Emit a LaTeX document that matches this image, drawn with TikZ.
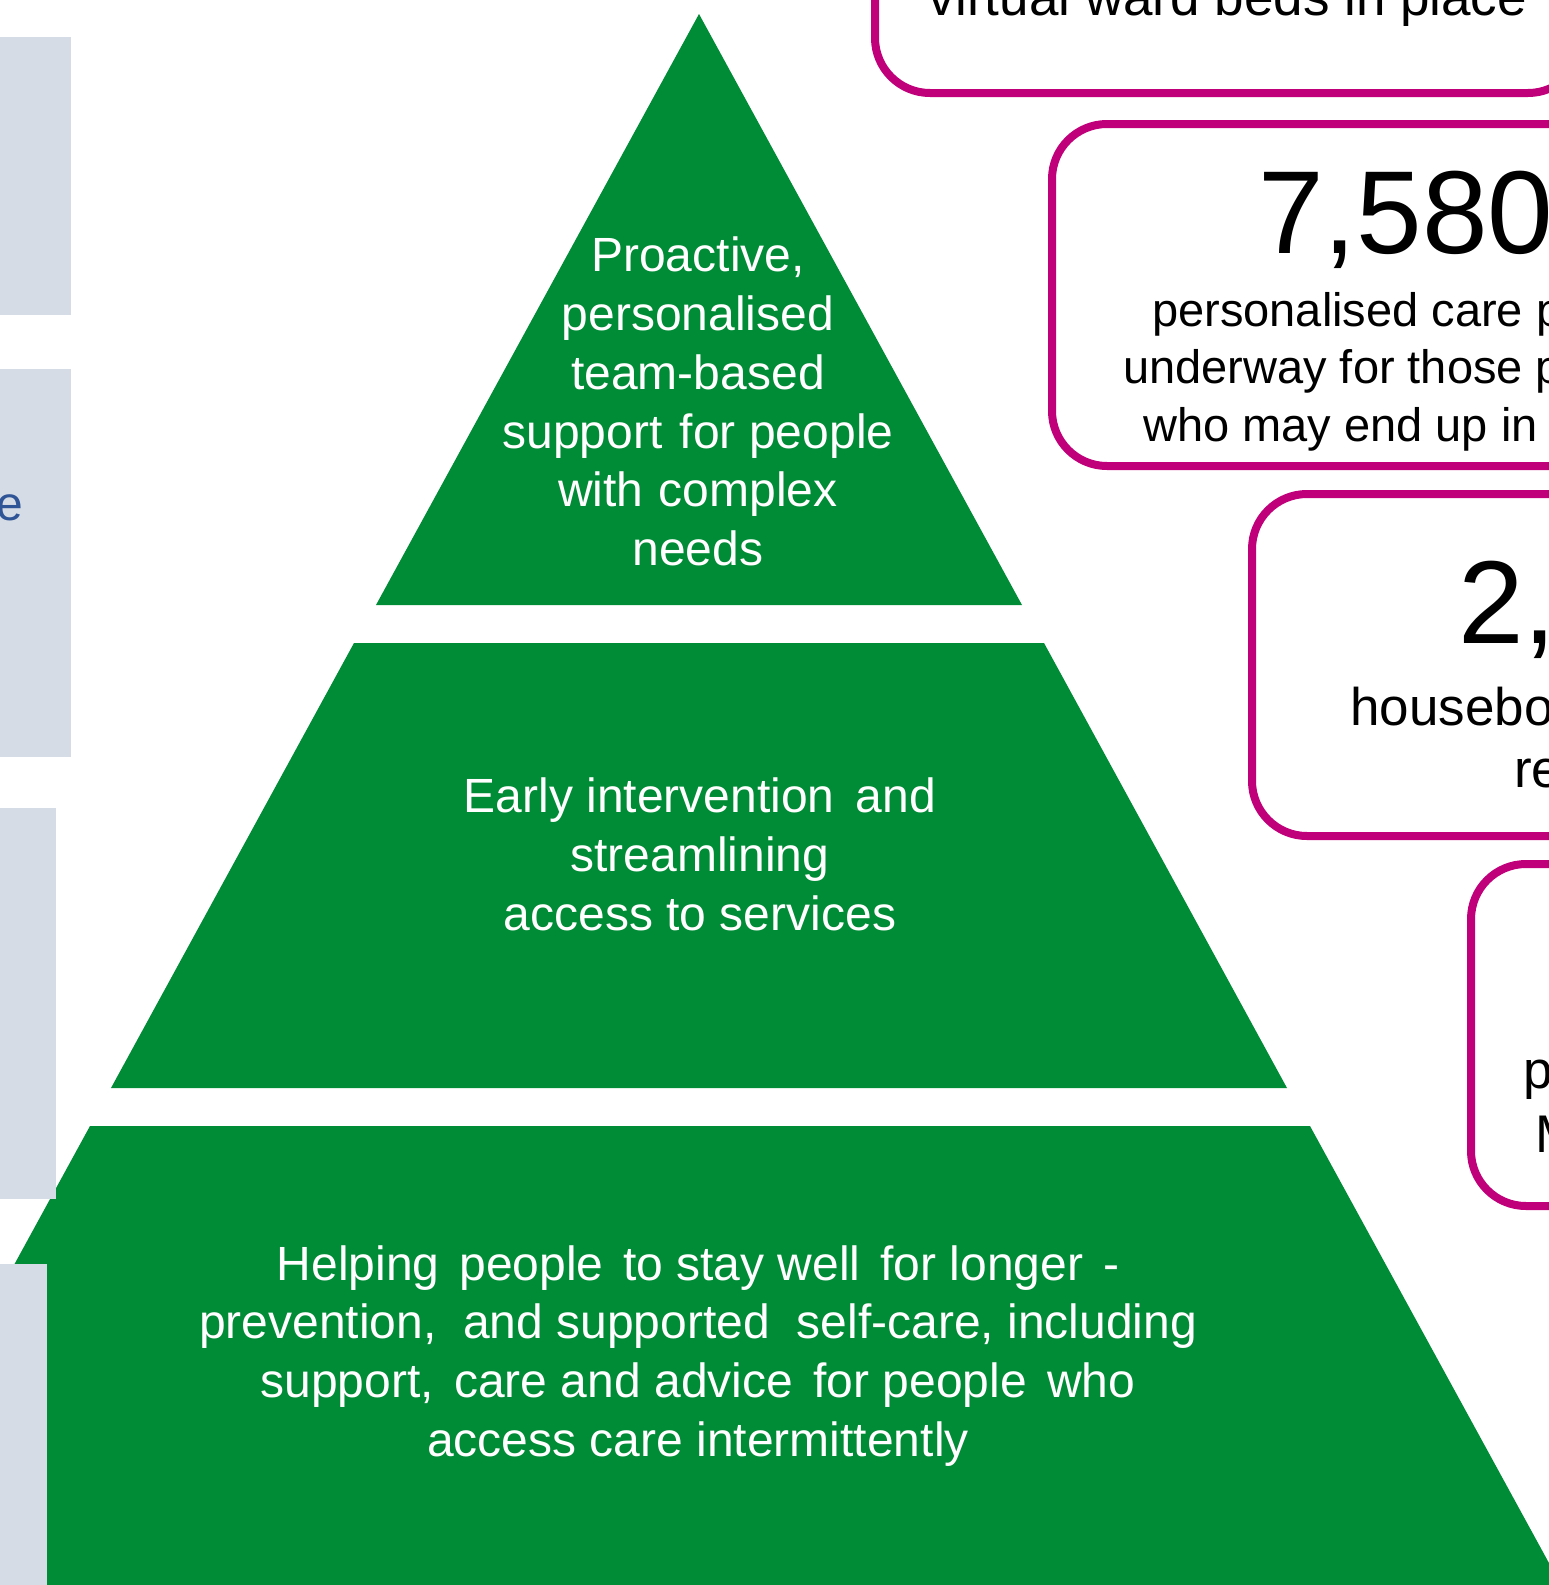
\documentclass[tikz,border=0pt]{standalone}
\usepackage{fontspec}
\setmainfont{Liberation Sans}
\definecolor{tiergreen}{RGB}{0,139,54}
\definecolor{boxmagenta}{RGB}{192,0,122}
\definecolor{panelgrey}{RGB}{214,220,229}
\definecolor{paneltext}{RGB}{47,85,151}

\begin{document}
\begin{tikzpicture}[x=1pt,y=-1pt,
  tier/.style={fill=tiergreen, draw=none},
  panel/.style={fill=panelgrey, draw=none},
  statbox/.style={draw=boxmagenta, line width=8pt, rounded corners=55pt, fill=white},
  tiertext/.style={text=white, align=center, inner sep=0pt, anchor=north,
    font=\fontsize{48}{58.7}\selectfont, execute at begin node={\rule{0pt}{40pt}}},
  bignum/.style={anchor=base west, inner sep=0pt, font=\fontsize{118}{118}\selectfont},
  statline/.style={anchor=base west, inner sep=0pt, font=\fontsize{47}{57}\selectfont},
  statlinelg/.style={anchor=base west, inner sep=0pt, font=\fontsize{53}{62}\selectfont},
]
\useasboundingbox (0,0) rectangle (1549,1585);
\fill[white] (0,0) rectangle (1549,1585);

\begin{scope}
\clip (0,0) rectangle (1549,1585);

% three tiers of the pyramid
\fill[tier] (699,14) -- (1022,605) -- (376,605) -- cycle;
\fill[tier] (354,643) -- (1044,643) -- (1287,1088) -- (111,1088) -- cycle;
\fill[tier] (90,1126) -- (1310,1126) -- (1561,1585) -- (-161,1585) -- cycle;

% grey side panels
\fill[panel] (0,37) rectangle (71,315);
\fill[panel] (0,369) rectangle (71,757);
\fill[panel] (0,808) rectangle (56,1199);
\fill[panel] (0,1264) rectangle (47,1585);
\node[anchor=base east, inner sep=0pt, text=paneltext,
  font=\fontsize{48}{58}\selectfont] (panelword) at (23,520) {e};

% tier labels
\node[tiertext] (ttop) at (698,237) {Proactive,\\personalised\\team-based\\support\hspace{4pt} for people\\with\hspace{2pt} complex\\needs};
\node[tiertext] (tmid) at (700,778) {Early intervention\hspace{8pt} and\\streamlining\\access to services};
\node[tiertext] (tbase) at (698,1245) {Helping\hspace{6.5pt} people\hspace{6.5pt} to stay well\hspace{6.5pt} for longer\hspace{6.5pt} -\\prevention,~ and supported~ self-care, including\\support,\hspace{7pt} care and advice\hspace{7pt} for people\hspace{7pt} who\\access care intermittently};

% statistic boxes
\draw[statbox] (875,-249) rectangle (1583,93);
\draw[statbox] (1052,124) rectangle (1760,466);
\draw[statbox] (1252,494) rectangle (1960,836);
\draw[statbox] (1471,864) rectangle (2179,1206);

\node[anchor=base, inner sep=0pt, font=\fontsize{53}{62}\selectfont] (s1) at (1228,15) {virtual ward beds in place};

\node[bignum] (s2num) at (1258,253) {7,580};
\node[statline] (s2a) at (1152,326) {personalised care p};
\node[statline] (s2b) at (1123,383) {underway for those p};
\node[statline] (s2c) at (1143,441) {who may end up in};

\node[bignum] (s3num) at (1458,643) {2,};
\node[statlinelg] (s3a) at (1350,725) {housebo};
\node[statlinelg] (s3b) at (1514,787) {re};

\node[statlinelg] (s4a) at (1523,1088) {p};
\node[statlinelg] (s4b) at (1535,1152) {M};
\end{scope}
\end{tikzpicture}
\end{document}
